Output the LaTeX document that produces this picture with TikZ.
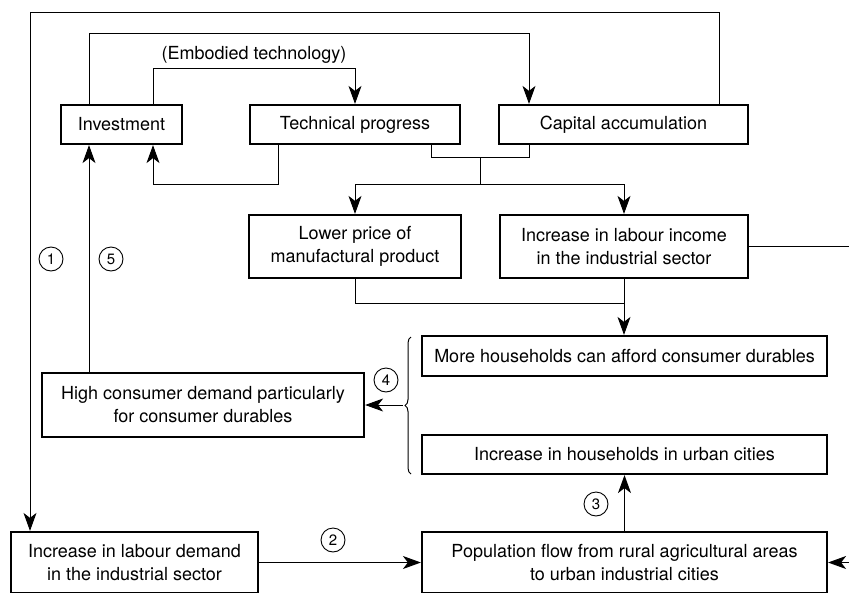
\documentclass[tikz,border=0pt]{standalone}
\usepackage{fontspec}
\setmainfont{TeX Gyre Heros}
\usetikzlibrary{arrows.meta,decorations.pathreplacing}
\tikzset{
  box/.style={draw, line width=2.2pt, align=center, inner sep=2pt},
  conn/.style={line width=1pt},
  arr/.style={-{Stealth[length=18pt,width=13pt,inset=5pt]}},
  num/.style={draw, circle, line width=0.9pt, minimum size=24pt, inner sep=0pt, font=\fontsize{15}{18}\selectfont},
  lbl/.style={inner sep=0pt}
}
\begin{document}
\begin{tikzpicture}[x=1pt,y=-1pt,font=\fontsize{18}{23}\selectfont]
\useasboundingbox (0,0) rectangle (849,592);
% boxes
\node[box, minimum width=121pt, minimum height=39pt] (inv) at (121.5,124.5) {Investment};
\node[box, minimum width=210pt, minimum height=39pt] (tech) at (355,124.5) {Technical progress};
\node[box, minimum width=249pt, minimum height=39pt] (cap) at (623.5,124.5) {Capital accumulation};
\node[box, minimum width=212pt, minimum height=63pt] (lower) at (355,246.5) {Lower price of\\manufactural product};
\node[box, minimum width=248pt, minimum height=63pt] (income) at (624,246.5) {Increase in labour income\\in the industrial sector};
\node[box, minimum width=405pt, minimum height=40pt] (more) at (624.5,356) {More households can afford consumer durables};
\node[box, minimum width=405pt, minimum height=39pt] (urban) at (624.5,454.5) {Increase in households in urban cities};
\node[box, minimum width=322pt, minimum height=64pt] (high) at (203,405) {High consumer demand particularly\\for consumer durables};
\node[box, minimum width=247pt, minimum height=61pt] (labour) at (134.5,562.5) {Increase in labour demand\\in the industrial sector};
\node[box, minimum width=405pt, minimum height=61pt] (pop) at (624.5,562.5) {Population flow from rural agricultural areas\\to urban industrial cities};
% labels
\node[lbl] (emb) at (254,55) {(Embodied technology)};
\node[num] (n1) at (51,259) {1};
\node[num] (n5) at (111,259) {5};
\node[num] (n4) at (386,380) {4};
\node[num] (n3) at (596,504) {3};
\node[num] (n2) at (333,540) {2};
% coordinates
\coordinate (j1) at (480,157);
\coordinate (j2) at (480,184);
\coordinate (r1) at (849,246.5);
\coordinate (r2) at (849,562.5);
\coordinate (btip) at (403,405);
% connectors
\draw[conn,arr] (719,0 |- cap.north) -- (719,12.5) -| (labour.north -| 30,0);
\draw[conn,arr] (89,0 |- inv.north) |- (529,33) -- (cap.north -| 529,0);
\draw[conn,arr] (153,0 |- inv.north) |- (355,68) -- (tech.north);
\draw[conn,arr] (278,0 |- tech.south) |- (153,184) -- (153,0 |- inv.south);
\draw[conn] (431,0 |- tech.south) |- (529,157) -- (529,0 |- cap.south);
\draw[conn] (j1) -- (j2);
\draw[conn,arr] (j2) -| (lower.north);
\draw[conn,arr] (j2) -| (income.north);
\draw[conn,arr] (89,0 |- high.north) -- (89,0 |- inv.south);
\draw[conn] (lower.south) |- (624,303);
\draw[conn,arr] (income.south) -- (income.south |- more.north);
\draw[conn] (income.east) -- (r1);
\draw[conn, decorate, decoration={brace, amplitude=6pt}] (411,474) -- (411,337);
\draw[conn,arr] (btip) -- (high.east);
\draw[conn,arr] (pop.north) -- (urban.south);
\draw[conn,arr] (labour.east) -- (labour.east -| pop.west);
\draw[conn,arr] (r2) -- (pop.east);
\end{tikzpicture}
\end{document}
